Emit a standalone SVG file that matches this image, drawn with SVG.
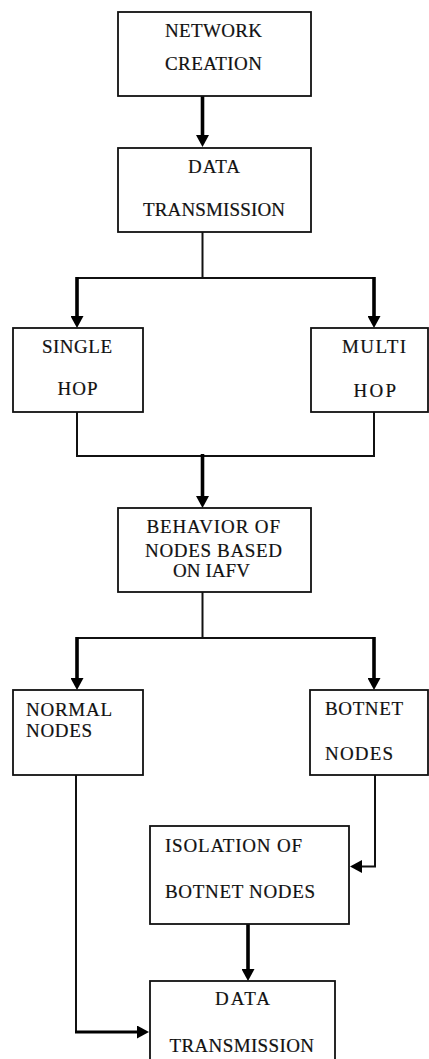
<svg xmlns="http://www.w3.org/2000/svg" width="429" height="1059" viewBox="0 0 429 1059">
<style>
.box{fill:#fff;stroke:#111;stroke-width:1.8}
.t{font-family:"Liberation Serif","Times New Roman",serif;font-size:19px;fill:#111;stroke:#111;stroke-width:0.2}
.thin{fill:none;stroke:#111;stroke-width:2}
.thick{fill:none;stroke:#000;stroke-width:3.6}
.mid{fill:none;stroke:#000;stroke-width:3}
</style>
<defs>
<marker id="ah" markerUnits="userSpaceOnUse" markerWidth="13" markerHeight="13" refX="1" refY="6.5" orient="auto">
<path d="M0,0 L12,6.5 L0,13 z" fill="#000"/>
</marker>
</defs>
<rect width="429" height="1059" fill="#fff"/>
<g id="connectors">
<line class="thick" x1="202.5" y1="96" x2="202.5" y2="136" marker-end="url(#ah)"/>
<polyline class="thin" points="202.5,232 202.5,278"/>
<line class="thin" x1="77" y1="278" x2="374" y2="278"/>
<line class="thick" x1="77" y1="277" x2="77" y2="317" marker-end="url(#ah)"/>
<line class="thick" x1="374" y1="277" x2="374" y2="317" marker-end="url(#ah)"/>
<polyline class="thin" points="77,412 77,456 374,456 374,412"/>
<line class="thick" x1="202.5" y1="454" x2="202.5" y2="497" marker-end="url(#ah)"/>
<polyline class="thin" points="202.5,592 202.5,638"/>
<line class="thin" x1="77" y1="638" x2="374" y2="638"/>
<line class="thick" x1="77" y1="637" x2="77" y2="679" marker-end="url(#ah)"/>
<line class="thick" x1="374" y1="637" x2="374" y2="679" marker-end="url(#ah)"/>
<polyline class="thin" points="375,775 375,866.5 361,866.5" marker-end="url(#ah)"/>
<line class="thick" x1="248" y1="924" x2="248" y2="970" marker-end="url(#ah)"/>
<polyline class="thin" points="76,775 76,1032 78,1032"/>
<line class="mid" x1="75" y1="1032" x2="138" y2="1032" marker-end="url(#ah)"/>
</g>
<g id="n1"><rect class="box" x="118" y="12" width="193" height="84"/>
<text class="t" x="165" y="36.5" textLength="97" lengthAdjust="spacing">NETWORK</text>
<text class="t" x="165" y="70" textLength="97" lengthAdjust="spacing">CREATION</text></g>
<g id="n2"><rect class="box" x="118" y="148" width="193" height="84"/>
<text class="t" x="188" y="173" textLength="52" lengthAdjust="spacing">DATA</text>
<text class="t" x="143" y="216" textLength="142" lengthAdjust="spacing">TRANSMISSION</text></g>
<g id="n3"><rect class="box" x="13" y="328" width="130" height="84"/>
<text class="t" x="42" y="353" textLength="70" lengthAdjust="spacing">SINGLE</text>
<text class="t" x="57.5" y="395" textLength="40" lengthAdjust="spacing">HOP</text></g>
<g id="n4"><rect class="box" x="311" y="328" width="117" height="84"/>
<text class="t" x="342" y="353" textLength="64" lengthAdjust="spacing">MULTI</text>
<text class="t" x="353.5" y="397" textLength="42.5" lengthAdjust="spacing">HOP</text></g>
<g id="n5"><rect class="box" x="118" y="508" width="193" height="84"/>
<text class="t" x="146.5" y="533" textLength="133.5" lengthAdjust="spacing">BEHAVIOR OF</text>
<text class="t" x="145" y="556.5" textLength="137" lengthAdjust="spacing">NODES BASED</text>
<text class="t" x="173" y="577" textLength="77" lengthAdjust="spacing">ON IAFV</text></g>
<g id="n6"><rect class="box" x="13" y="690" width="130" height="85"/>
<text class="t" x="26" y="716" textLength="86" lengthAdjust="spacing">NORMAL</text>
<text class="t" x="26" y="737" textLength="66" lengthAdjust="spacing">NODES</text></g>
<g id="n7"><rect class="box" x="310" y="690" width="118" height="85"/>
<text class="t" x="325" y="715" textLength="78" lengthAdjust="spacing">BOTNET</text>
<text class="t" x="325" y="760" textLength="68" lengthAdjust="spacing">NODES</text></g>
<g id="n8"><rect class="box" x="150" y="826" width="199" height="98"/>
<text class="t" x="165" y="852" textLength="137" lengthAdjust="spacing">ISOLATION OF</text>
<text class="t" x="165" y="898" textLength="150" lengthAdjust="spacing">BOTNET NODES</text></g>
<g id="n9"><rect class="box" x="150" y="981" width="185" height="85"/>
<text class="t" x="215" y="1005" textLength="55" lengthAdjust="spacing">DATA</text>
<text class="t" x="169.5" y="1051.5" textLength="144.5" lengthAdjust="spacing">TRANSMISSION</text></g>
</svg>
